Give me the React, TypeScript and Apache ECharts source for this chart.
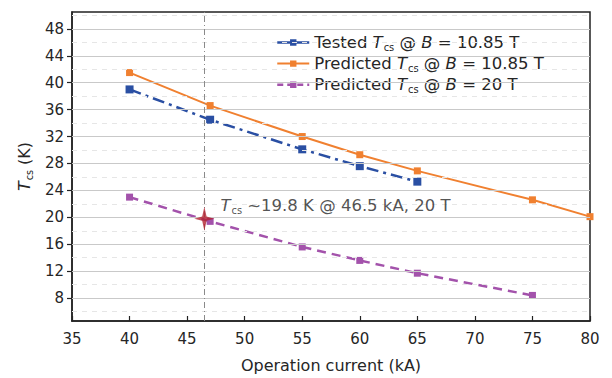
import React, { useEffect, useRef } from 'react';
import * as echarts from 'echarts';

const testedCurrents = [40, 47, 55, 60, 65];
const testedTcs1085 = [39.0, 34.5, 30.1, 27.6, 25.3];
const predCurrents1085 = [40, 47, 55, 60, 65, 75, 80];
const predTcs1085 = [41.5, 36.6, 32.0, 29.3, 26.9, 22.6, 20.1];
const predCurrents20 = [40, 47, 55, 60, 65, 75];
const predTcs20 = [23.0, 19.4, 15.6, 13.6, 11.7, 8.4];
const yTicks = [8, 12, 16, 20, 24, 28, 32, 36, 40, 44, 48];
const yMinor = [6, 10, 14, 18, 22, 26, 30, 34, 38, 42, 46, 50];
const opCurrent = 46.5;
const opTcs = 19.8;

const seriesNames = [
  'Tested Tcs @ B = 10.85 T',
  'Predicted Tcs @ B = 10.85 T',
  'Predicted Tcs @ B = 20 T',
];
const legendRich = [
  '{n|Tested }{i|T}{s|cs}{n| @ }{i|B}{n| = 10.85 T}',
  '{n|Predicted }{i|T}{s|cs}{n| @ }{i|B}{n| = 10.85 T}',
  '{n|Predicted }{i|T}{s|cs}{n| @ }{i|B}{n| = 20 T}',
];

const FONT = 'DejaVu Sans, sans-serif';
const TXT = '#262626';

const mkRich = (fs: number) => ({
  n: { fontSize: fs, color: TXT, fontFamily: FONT, lineHeight: fs + 2 },
  i: { fontSize: fs, color: TXT, fontFamily: FONT, fontStyle: 'italic', lineHeight: fs + 2 },
  s: { fontSize: fs * 0.6, color: TXT, fontFamily: FONT, padding: [fs * 0.55, 0, 0, 1], lineHeight: fs + 2 },
});

const pairs = (xs: number[], ys: number[]) => xs.map((x, k) => [x, ys[k]]);

const BLUE = '#2a4fa3';
const ORANGE = '#f08030';
const PURPLE = '#a352ab';

export default function App() {
  const ref = useRef<HTMLDivElement>(null);
  useEffect(() => {
    const chart = echarts.init(ref.current!, null, { renderer: 'svg' });
    chart.setOption({
      animation: false,
      backgroundColor: '#fff',
      grid: {
        left: 72,
        right: 22,
        top: 12,
        bottom: 55,
        show: true,
        borderColor: '#222',
        borderWidth: 1.5,
        backgroundColor: 'transparent',
      },
      legend: {
        data: [
          { name: seriesNames[0], lineStyle: { type: 'solid', width: 2.5 } },
          { name: seriesNames[1], lineStyle: { type: 'solid', width: 2 } },
          { name: seriesNames[2], lineStyle: { type: [6, 4], width: 2.5 } },
        ],
        orient: 'vertical',
        left: 272,
        top: 31,
        itemWidth: 32,
        itemHeight: 8,
        itemGap: 2,
        padding: [2, 8, 2, 4],
        backgroundColor: '#fff',
        formatter: (name: string) => legendRich[seriesNames.indexOf(name)],
        textStyle: { rich: mkRich(16.5), fontSize: 16.5, color: TXT, fontFamily: FONT },
      },
      xAxis: {
        type: 'value',
        min: 35,
        max: 80,
        interval: 5,
        name: 'Operation current (kA)',
        nameLocation: 'middle',
        nameGap: 36,
        nameTextStyle: { fontSize: 16, color: TXT, fontFamily: FONT },
        axisLine: { lineStyle: { color: '#222', width: 1.5 } },
        axisTick: { inside: true, length: 5, lineStyle: { color: '#222', width: 1.2 } },
        axisLabel: { fontSize: 15, color: TXT, fontFamily: FONT, margin: 10 },
        splitLine: { show: false },
      },
      yAxis: {
        type: 'value',
        min: 4.6,
        max: 50.5,
        name: '{i|T}{s|cs}{n| (K)}',
        nameLocation: 'middle',
        nameGap: 36,
        nameTextStyle: { rich: mkRich(16) },
        axisLine: { lineStyle: { color: '#222', width: 1.5 } },
        axisTick: { customValues: yTicks, length: 5, lineStyle: { color: '#222', width: 1.2 } },
        axisLabel: { customValues: yTicks, fontSize: 15, color: TXT, fontFamily: FONT, margin: 8 },
        splitLine: { show: false },
      },
      series: [
        {
          name: 'gridlines',
          type: 'line',
          data: [],
          silent: true,
          z: 0,
          markLine: {
            silent: true,
            symbol: 'none',
            label: { show: false },
            data: [
              ...yTicks.map((v) => ({ yAxis: v, lineStyle: { color: '#c9c9c9', width: 1, type: 'solid' } })),
              ...yMinor.map((v) => ({ yAxis: v, lineStyle: { color: '#e6e6e6', width: 1, type: [5, 5] } })),
              { xAxis: opCurrent, lineStyle: { color: '#8a8a8a', width: 1, type: [6, 3, 1, 3] } },
            ],
          },
        },
        {
          name: seriesNames[0],
          type: 'line',
          data: pairs(testedCurrents, testedTcs1085),
          symbol: 'rect',
          symbolSize: 8,
          color: BLUE,
          lineStyle: { color: BLUE, width: 2.5, type: [12, 5, 3, 5] },
          itemStyle: { color: BLUE },
          z: 3,
        },
        {
          name: seriesNames[1],
          type: 'line',
          data: pairs(predCurrents1085, predTcs1085),
          symbol: 'rect',
          symbolSize: 7,
          color: ORANGE,
          lineStyle: { color: ORANGE, width: 2 },
          itemStyle: { color: ORANGE },
          z: 3,
        },
        {
          name: seriesNames[2],
          type: 'line',
          data: pairs(predCurrents20, predTcs20),
          symbol: 'rect',
          symbolSize: 7,
          color: PURPLE,
          lineStyle: { color: PURPLE, width: 2.5, type: [9, 6] },
          itemStyle: { color: PURPLE },
          z: 3,
        },
        {
          name: 'operating point',
          type: 'scatter',
          data: [[opCurrent, opTcs]],
          symbol: 'path://M0,-12 L2.2,-2.2 L10,0 L2.2,2.2 L0,12 L-2.2,2.2 L-10,0 L-2.2,-2.2 Z',
          symbolSize: [20, 24],
          itemStyle: { color: '#b3202e' },
          z: 5,
          label: {
            show: true,
            position: 'right',
            distance: 6,
            offset: [0, -13],
            formatter: '{i|T}{s|cs}{n| ~19.8 K @ 46.5 kA, 20 T}',
            rich: mkRich(16.5),
          },
        },
      ],
    });
    return () => chart.dispose();
  }, []);
  return <div ref={ref} style={{ position: 'fixed', left: 0, top: 0, width: 612, height: 378 }} />;
}
